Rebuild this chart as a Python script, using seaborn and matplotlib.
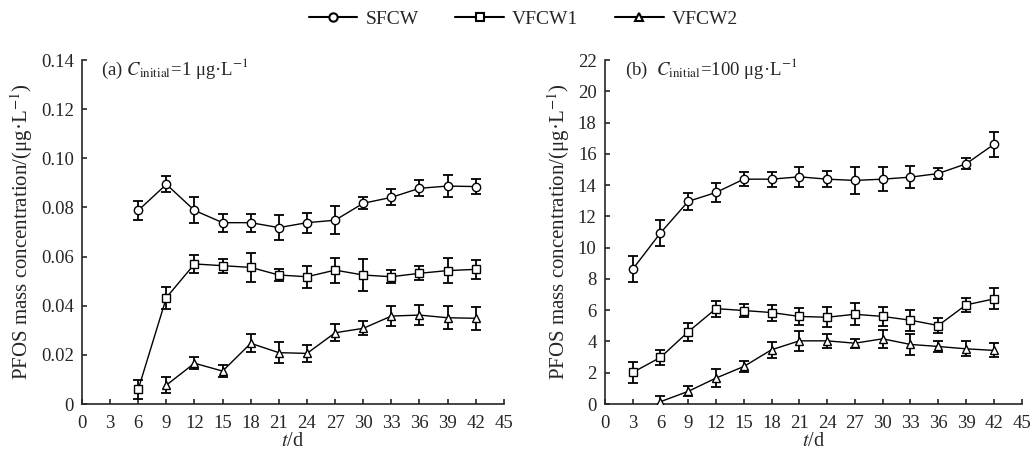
import numpy as np
import pandas as pd
import matplotlib
matplotlib.use("Agg")
import matplotlib.pyplot as plt
import seaborn as sns
from matplotlib.lines import Line2D

# panel (a), C_initial = 1 ug/L
t_a = [6, 9, 12, 15, 18, 21, 24, 27, 30, 33, 36, 39, 42]
sfcw_a = [0.0788, 0.0894, 0.0788, 0.0738, 0.0738, 0.0718, 0.0738, 0.0748, 0.0817, 0.0841, 0.0878, 0.0887, 0.0885]
sfcw_a_err = [0.0040, 0.0032, 0.0053, 0.0037, 0.0036, 0.0050, 0.0040, 0.0056, 0.0025, 0.0033, 0.0032, 0.0045, 0.0031]
vf1_a = [0.0060, 0.0433, 0.0570, 0.0563, 0.0556, 0.0525, 0.0518, 0.0545, 0.0525, 0.0518, 0.0532, 0.0543, 0.0548]
vf1_a_err = [0.0039, 0.0045, 0.0036, 0.0028, 0.0059, 0.0026, 0.0044, 0.0051, 0.0064, 0.0026, 0.0028, 0.0050, 0.0039]
t_a2 = [9, 12, 15, 18, 21, 24, 27, 30, 33, 36, 39, 42]
vf2_a = [0.0077, 0.0166, 0.0134, 0.0247, 0.0209, 0.0206, 0.0290, 0.0308, 0.0358, 0.0362, 0.0351, 0.0349]
vf2_a_err = [0.0032, 0.0025, 0.0024, 0.0036, 0.0042, 0.0035, 0.0034, 0.0028, 0.0041, 0.0039, 0.0047, 0.0047]

# panel (b), C_initial = 100 ug/L
t_b = [3, 6, 9, 12, 15, 18, 21, 24, 27, 30, 33, 36, 39, 42]
sfcw_b = [8.62, 10.94, 12.96, 13.53, 14.38, 14.38, 14.53, 14.38, 14.30, 14.38, 14.51, 14.74, 15.36, 16.60]
sfcw_b_err = [0.84, 0.81, 0.53, 0.62, 0.45, 0.47, 0.62, 0.52, 0.87, 0.77, 0.72, 0.36, 0.35, 0.80]
vf1_b = [2.02, 2.98, 4.62, 6.10, 5.98, 5.85, 5.60, 5.55, 5.74, 5.60, 5.36, 5.02, 6.34, 6.72]
vf1_b_err = [0.67, 0.47, 0.56, 0.52, 0.43, 0.51, 0.55, 0.65, 0.71, 0.59, 0.66, 0.49, 0.47, 0.67]
t_b2 = [6, 9, 12, 15, 18, 21, 24, 27, 30, 33, 36, 39, 42]
vf2_b = [0.15, 0.81, 1.66, 2.40, 3.47, 4.04, 4.04, 3.89, 4.17, 3.81, 3.68, 3.53, 3.43]
vf2_b_err = [0.37, 0.32, 0.55, 0.37, 0.50, 0.63, 0.43, 0.30, 0.56, 0.69, 0.37, 0.48, 0.45]

series = ["SFCW", "VFCW1", "VFCW2"]
mk = {"SFCW": "o", "VFCW1": "s", "VFCW2": "^"}

sns.set_style("ticks")
plt.rcParams['font.family'] = ['Liberation Serif', 'DejaVu Serif']
plt.rcParams['mathtext.fontset'] = 'stix'

def make_df(rows):
    out = []
    for name, t, y, e in rows:
        out.append(pd.DataFrame({"t": t, "c": y, "err": e, "series": name}))
    return pd.concat(out, ignore_index=True)

df_a = make_df([("SFCW", t_a, sfcw_a, sfcw_a_err), ("VFCW1", t_a, vf1_a, vf1_a_err), ("VFCW2", t_a2, vf2_a, vf2_a_err)])
df_b = make_df([("SFCW", t_b, sfcw_b, sfcw_b_err), ("VFCW1", t_b, vf1_b, vf1_b_err), ("VFCW2", t_b2, vf2_b, vf2_b_err)])

fig = plt.figure(figsize=(10.34, 4.62), dpi=100)
ax1 = fig.add_axes([0.0793, 0.1255, 0.408, 0.7446])
ax2 = fig.add_axes([0.585, 0.1255, 0.403, 0.7446])

def draw(ax, df, ymax, ystep, yfmt, label, lx):
    for name in series:
        d = df[df.series == name]
        ax.errorbar(d["t"], d["c"], yerr=d["err"], fmt="none", ecolor="black",
                    elinewidth=1.3, capsize=3.8, capthick=1.3, zorder=2)
    sns.lineplot(data=df, x="t", y="c", hue="series", style="series",
                 palette=["black"] * 3, markers=mk, dashes=False,
                 markerfacecolor="white", markeredgecolor="black", markeredgewidth=1.0,
                 markersize=6, linewidth=1.0, legend=False, ax=ax, zorder=3)
    ax.set_xlim(0, 45)
    ax.set_ylim(0, ymax)
    ax.set_xticks(np.arange(0, 46, 3))
    yt = np.arange(0, ymax + ystep / 2, ystep)
    ax.set_yticks(yt)
    ax.set_yticklabels(["0"] + [yfmt.format(v) for v in yt[1:]])
    ax.tick_params(direction="in", labelsize=13.5, length=3.5, width=1.2, pad=6)
    ax.tick_params(axis="x", pad=8)
    for s in ["top", "right"]:
        ax.spines[s].set_visible(False)
    for s in ["left", "bottom"]:
        ax.spines[s].set_linewidth(1.2)
    ax.set_xlabel("$t$/d", fontsize=14.5, labelpad=0)
    ax.set_ylabel("PFOS mass concentration/(μg·L$^{-1}$)", fontsize=15, labelpad=4)
    ax.text(lx, 1.01, label, transform=ax.transAxes, fontsize=13.5, va="top", ha="left")

draw(ax1, df_a, 0.14, 0.02, "{:.2f}", "(a) $C_{\\mathrm{initial}}$=1 μg·L$^{-1}$", 0.045)
draw(ax2, df_b, 22, 2, "{:.0f}", "(b)  $C_{\\mathrm{initial}}$=100 μg·L$^{-1}$", 0.048)

handles = [Line2D([], [], color="black", lw=1.5, marker=mk[n], markersize=6,
                  markerfacecolor="white", markeredgecolor="black", markeredgewidth=1.5)
           for n in series]
fig.legend(handles, series, loc="upper center", bbox_to_anchor=(0.506, 1.015), ncol=3,
           frameon=False, fontsize=14, handlelength=2.5, handletextpad=0.4, columnspacing=1.9)

fig.savefig("out.png", dpi=100)
